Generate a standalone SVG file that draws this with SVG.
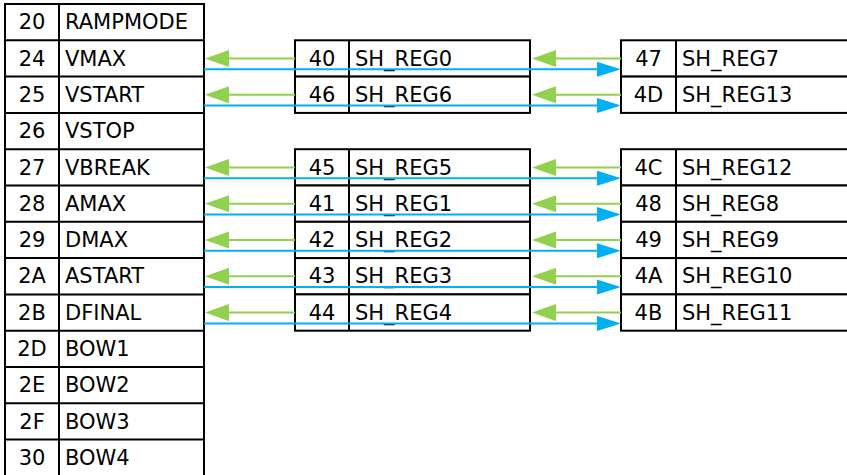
<svg xmlns="http://www.w3.org/2000/svg" width="847" height="475" viewBox="0 0 847 475">
<style>
.c{fill:#fff;stroke:#000;stroke-width:2}
.d{stroke:#000;stroke-width:2}
text{font-family:"DejaVu Sans","Liberation Sans",Arial,sans-serif;font-size:21px;fill:#000}
.n{text-anchor:middle}
.g{stroke:#92d050;stroke-width:2;fill:none;marker-end:url(#ga)}
.b{stroke:#00b0f0;stroke-width:2;fill:none;marker-end:url(#ba)}
</style>
<defs>
<marker id="ga" markerUnits="userSpaceOnUse" markerWidth="26" markerHeight="20" refX="0" refY="8.5" orient="auto"><path d="M0,0 L24,8.5 L0,17 z" fill="#92d050"/></marker>
<marker id="ba" markerUnits="userSpaceOnUse" markerWidth="26" markerHeight="18" refX="0" refY="7.5" orient="auto"><path d="M0,0 L24,7.5 L0,15 z" fill="#00b0f0"/></marker>
</defs>
<rect width="847" height="475" fill="#fff"/>
<g id="left-table">
<rect class="c" x="5" y="4" width="199" height="473"/>
<line class="d" x1="59" y1="4" x2="59" y2="477"/>
<g class="d">
<line x1="5" y1="40.3" x2="204" y2="40.3"/>
<line x1="5" y1="76.6" x2="204" y2="76.6"/>
<line x1="5" y1="112.9" x2="204" y2="112.9"/>
<line x1="5" y1="149.2" x2="204" y2="149.2"/>
<line x1="5" y1="185.5" x2="204" y2="185.5"/>
<line x1="5" y1="221.8" x2="204" y2="221.8"/>
<line x1="5" y1="258.1" x2="204" y2="258.1"/>
<line x1="5" y1="294.4" x2="204" y2="294.4"/>
<line x1="5" y1="330.7" x2="204" y2="330.7"/>
<line x1="5" y1="367" x2="204" y2="367"/>
<line x1="5" y1="403.3" x2="204" y2="403.3"/>
<line x1="5" y1="439.6" x2="204" y2="439.6"/>
</g>
<g id="row-20"><text class="n" x="32" y="29.3">20</text><text x="65" y="29.3">RAMPMODE</text></g>
<g id="row-24"><text class="n" x="32" y="65.6">24</text><text x="65" y="65.6">VMAX</text></g>
<g id="row-25"><text class="n" x="32" y="101.9">25</text><text x="65" y="101.9">VSTART</text></g>
<g id="row-26"><text class="n" x="32" y="138.2">26</text><text x="65" y="138.2">VSTOP</text></g>
<g id="row-27"><text class="n" x="32" y="174.5">27</text><text x="65" y="174.5">VBREAK</text></g>
<g id="row-28"><text class="n" x="32" y="210.8">28</text><text x="65" y="210.8">AMAX</text></g>
<g id="row-29"><text class="n" x="32" y="247.1">29</text><text x="65" y="247.1">DMAX</text></g>
<g id="row-2A"><text class="n" x="32" y="283.4">2A</text><text x="65" y="283.4">ASTART</text></g>
<g id="row-2B"><text class="n" x="32" y="319.7">2B</text><text x="65" y="319.7">DFINAL</text></g>
<g id="row-2D"><text class="n" x="32" y="356">2D</text><text x="65" y="356">BOW1</text></g>
<g id="row-2E"><text class="n" x="32" y="392.3">2E</text><text x="65" y="392.3">BOW2</text></g>
<g id="row-2F"><text class="n" x="32" y="428.6">2F</text><text x="65" y="428.6">BOW3</text></g>
<g id="row-30"><text class="n" x="32" y="464.9">30</text><text x="65" y="464.9">BOW4</text></g>
</g>
<g id="mid-40"><rect class="c" x="295" y="40.3" width="235" height="36.3"/><line class="d" x1="349" y1="40.3" x2="349" y2="76.6"/><text class="n" x="322" y="65.6">40</text><text x="355" y="65.6">SH_REG0</text></g>
<g id="mid-46"><rect class="c" x="295" y="76.6" width="235" height="36.3"/><line class="d" x1="349" y1="76.6" x2="349" y2="112.9"/><text class="n" x="322" y="101.9">46</text><text x="355" y="101.9">SH_REG6</text></g>
<g id="mid-45"><rect class="c" x="295" y="149.2" width="235" height="36.3"/><line class="d" x1="349" y1="149.2" x2="349" y2="185.5"/><text class="n" x="322" y="174.5">45</text><text x="355" y="174.5">SH_REG5</text></g>
<g id="mid-41"><rect class="c" x="295" y="185.5" width="235" height="36.3"/><line class="d" x1="349" y1="185.5" x2="349" y2="221.8"/><text class="n" x="322" y="210.8">41</text><text x="355" y="210.8">SH_REG1</text></g>
<g id="mid-42"><rect class="c" x="295" y="221.8" width="235" height="36.3"/><line class="d" x1="349" y1="221.8" x2="349" y2="258.1"/><text class="n" x="322" y="247.1">42</text><text x="355" y="247.1">SH_REG2</text></g>
<g id="mid-43"><rect class="c" x="295" y="258.1" width="235" height="36.3"/><line class="d" x1="349" y1="258.1" x2="349" y2="294.4"/><text class="n" x="322" y="283.4">43</text><text x="355" y="283.4">SH_REG3</text></g>
<g id="mid-44"><rect class="c" x="295" y="294.4" width="235" height="36.3"/><line class="d" x1="349" y1="294.4" x2="349" y2="330.7"/><text class="n" x="322" y="319.7">44</text><text x="355" y="319.7">SH_REG4</text></g>
<g id="right-47"><rect class="c" x="621" y="40.3" width="240" height="36.3"/><line class="d" x1="676" y1="40.3" x2="676" y2="76.6"/><text class="n" x="648.5" y="65.6">47</text><text x="682" y="65.6">SH_REG7</text></g>
<g id="right-4D"><rect class="c" x="621" y="76.6" width="240" height="36.3"/><line class="d" x1="676" y1="76.6" x2="676" y2="112.9"/><text class="n" x="648.5" y="101.9">4D</text><text x="682" y="101.9">SH_REG13</text></g>
<g id="right-4C"><rect class="c" x="621" y="149.2" width="240" height="36.3"/><line class="d" x1="676" y1="149.2" x2="676" y2="185.5"/><text class="n" x="648.5" y="174.5">4C</text><text x="682" y="174.5">SH_REG12</text></g>
<g id="right-48"><rect class="c" x="621" y="185.5" width="240" height="36.3"/><line class="d" x1="676" y1="185.5" x2="676" y2="221.8"/><text class="n" x="648.5" y="210.8">48</text><text x="682" y="210.8">SH_REG8</text></g>
<g id="right-49"><rect class="c" x="621" y="221.8" width="240" height="36.3"/><line class="d" x1="676" y1="221.8" x2="676" y2="258.1"/><text class="n" x="648.5" y="247.1">49</text><text x="682" y="247.1">SH_REG9</text></g>
<g id="right-4A"><rect class="c" x="621" y="258.1" width="240" height="36.3"/><line class="d" x1="676" y1="258.1" x2="676" y2="294.4"/><text class="n" x="648.5" y="283.4">4A</text><text x="682" y="283.4">SH_REG10</text></g>
<g id="right-4B"><rect class="c" x="621" y="294.4" width="240" height="36.3"/><line class="d" x1="676" y1="294.4" x2="676" y2="330.7"/><text class="n" x="648.5" y="319.7">4B</text><text x="682" y="319.7">SH_REG11</text></g>
<g id="connectors">
<path class="g" d="M295,58.5 H229"/><path class="g" d="M621,58.5 H556"/><path class="b" d="M204,69.3 H597"/>
<path class="g" d="M295,94.8 H229"/><path class="g" d="M621,94.8 H556"/><path class="b" d="M204,105.6 H597"/>
<path class="g" d="M295,167.4 H229"/><path class="g" d="M621,167.4 H556"/><path class="b" d="M204,178.2 H597"/>
<path class="g" d="M295,203.7 H229"/><path class="g" d="M621,203.7 H556"/><path class="b" d="M204,214.5 H597"/>
<path class="g" d="M295,240 H229"/><path class="g" d="M621,240 H556"/><path class="b" d="M204,250.8 H597"/>
<path class="g" d="M295,276.3 H229"/><path class="g" d="M621,276.3 H556"/><path class="b" d="M204,287.1 H597"/>
<path class="g" d="M295,312.6 H229"/><path class="g" d="M621,312.6 H556"/><path class="b" d="M204,323.4 H597"/>
</g>
</svg>
